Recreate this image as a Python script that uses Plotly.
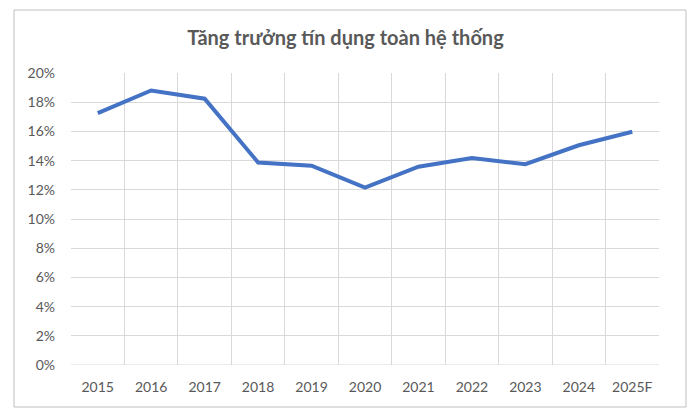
import plotly.graph_objects as go

years = ["2015", "2016", "2017", "2018", "2019", "2020", "2021", "2022", "2023", "2024", "2025F"]
growth = [17.25, 18.8, 18.24, 13.87, 13.65, 12.15, 13.58, 14.17, 13.75, 15.05, 15.98]
ytick_vals = [0, 2, 4, 6, 8, 10, 12, 14, 16, 18, 20]
ytick_text = [f"{v}%" for v in ytick_vals]
title_text = "Tăng trưởng tín dụng toàn hệ thống"

W, H = 691, 415
ml, mr, mt, mb = 71, 32, 73, 50
pw = W - ml - mr
ph = H - mt - mb

def px_x(x):
    return (x - ml) / pw

def px_y(y):
    return (H - mb - y) / ph

font_family = "Lato, Carlito, 'Open Sans', sans-serif"
gray = "#595959"

fig = go.Figure()
fig.add_trace(go.Scatter(
    x=years, y=growth, mode="lines",
    line=dict(color="#4472C4", width=4),
    hoverinfo="x+y",
))

fig.update_layout(
    width=W, height=H,
    margin=dict(l=ml, r=mr, t=mt, b=mb),
    paper_bgcolor="white", plot_bgcolor="white",
    showlegend=False,
    font=dict(family=font_family, color=gray, size=13),
    title=dict(
        text=f"<b>{title_text}</b>",
        x=0.5, xanchor="center",
        y=1 - 38 / H, yanchor="middle",
        font=dict(size=20, color=gray, family=font_family),
    ),
    xaxis=dict(
        type="category",
        tickson="boundaries",
        showgrid=True, gridcolor="#D9D9D9", gridwidth=1,
        showline=False, zeroline=False,
        ticks="", ticklen=0,
        tickfont=dict(size=14, color=gray),
        range=[-0.5, len(years) - 0.5],
        fixedrange=True,
        ticklabelstandoff=12,
    ),
    yaxis=dict(
        range=[0, 20],
        tickvals=ytick_vals, ticktext=ytick_text,
        showgrid=True, gridcolor="#D9D9D9", gridwidth=1,
        showline=False, zeroline=False,
        ticks="",
        tickfont=dict(size=14, color=gray),
        fixedrange=True,
        ticklabelstandoff=15,
    ),
    shapes=[
        dict(type="line", xref="paper", yref="y", x0=0, x1=1, y0=0, y1=0,
             line=dict(color="#D9D9D9", width=1)),
        dict(type="rect", xref="paper", yref="paper",
             x0=px_x(14), x1=px_x(686), y0=px_y(407), y1=px_y(10),
             line=dict(color="#BFBFBF", width=1), fillcolor="rgba(0,0,0,0)",
             layer="below"),
    ],
)

fig.write_html("out.html", config={"displayModeBar": False},
               post_script="document.body.style.margin='0';document.body.style.overflow='hidden';")
